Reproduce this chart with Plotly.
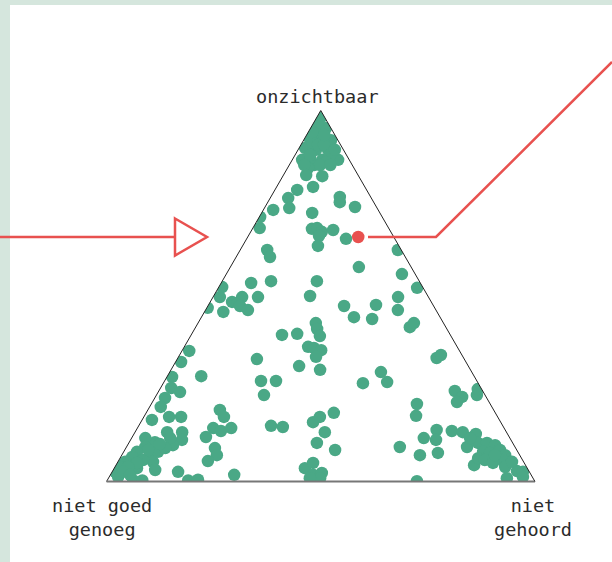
import plotly.graph_objects as go

# Share (%) of each answer: onzichtbaar (top), niet gehoord (right); niet goed genoeg = rest
onzichtbaar = [
    98.2, 95.3, 95.3, 92.6, 92.6, 92.0, 89.9, 89.4, 89.4, 86.7, 86.7, 87.2, 86.7,
    91.4, 90.7, 90.7, 88.0, 85.3, 86.1, 84.5,
    96.9, 93.4, 94.2, 89.4, 88.0, 85.3, 85.3, 85.3,
    82.6, 82.3, 79.4, 78.6, 76.4, 73.7, 73.2, 71.3, 68.3, 72.4, 76.7, 75.3, 74.0,
    68.1, 68.3, 67.3, 66.2, 67.8, 65.4, 63.5, 62.4, 60.5, 62.4, 57.8, 55.9, 54.0,
    54.0, 53.5, 52.2, 52.4, 49.7, 48.4, 48.1, 49.7, 47.3, 46.2, 45.7, 49.7, 46.8,
    50.0, 47.3, 47.6, 44.3, 43.8, 49.7, 46.2, 41.6, 42.7, 42.7, 41.1, 39.2, 39.5,
    39.8, 36.3, 36.0, 35.4, 33.6, 31.1, 30.1, 33.0, 27.1, 27.1, 23.3, 26.5, 29.5,
    26.8, 33.3, 34.1, 35.2, 32.2, 28.4, 28.2, 25.2, 24.1, 22.5, 20.1, 16.6, 17.4,
    17.4, 19.3, 17.4, 14.4, 13.6, 14.4, 12.0, 9.0, 7.1, 5.5, 1.8, 2.6, 0.3, 0.5,
    0.3, 0.3, 15.0, 14.7, 16.0, 17.4, 18.5, 13.3, 10.4, 8.5, 3.6, 5.0, 1.8, 2.3,
    0.9, 0.9, 20.9, 17.7, 24.4, 22.8, 21.4, 23.3, 24.9, 9.3, 7.1, 7.7, 11.7, 13.9,
    11.2, 13.6, 13.3, 12.8, 9.3, 4.4, 0.9, 2.8, 2.6, 1.2, 0.1, 10.4, 10.4, 9.8,
    8.5, 7.1, 8.0, 7.7, 6.3, 5.8, 6.3, 5.8, 5.0, 3.9, 11.7, 5.3, 7.1, 13.3, 13.3,
    11.2, 9.8, 11.7, 10.6, 11.7, 9.3, 8.0, 6.6, 5.3, 3.9, 2.6, 1.2, 6.6, 5.3, 8.0,
    9.0, 3.6, 5.8, 3.1, 5.0, 3.9, 2.6, 10.1, 8.5, 1.8,
]
niet_gehoord = [
    1.0, 1.2, 3.6, 1.0, 3.5, 6.4, 1.4, 4.2, 7.0, 10.7, 2.3, 3.9, 7.0,
    2.3, 4.0, 5.4, 8.2, 5.8, 8.2, 4.8,
    1.0, 4.1, 0.9, 8.6, 3.5, 7.2, 9.6, 3.5,
    5.3, 9.2, 8.5, 5.2, 4.2, 5.8, 2.3, 0.2, 1.6, 11.8, 16.1, 16.8, 21.0,
    13.9, 15.0, 16.6, 16.5, 19.0, 23.2, 17.6, 6.3, 7.9, 36.8, 30.0, 41.0, 11.4,
    22.1, 7.0, 46.4, 0.8, 1.6, 5.1, 6.6, 6.8, 7.5, 9.9, 4.4, 10.5, 0.2,
    22.5, 31.8, 39.1, 35.6, 40.1, 43.2, 44.9, 50.0, 50.4, 27.5, 28.6, 30.2, 21.2,
    24.6, 28.9, 30.4, 32.4, 32.1, 29.4, 34.8, 18.6, 22.5, 26.0, 25.1, 46.6, 49.3,
    52.1, 60.4, 61.0, 1.7, 1.3, 7.9, 1.2, 2.5, 5.1, 2.4, 2.6, 2.3, 5.9,
    8.7, 16.8, 18.7, 17.7, 19.9, 21.9, 17.2, 20.8, 22.2, 20.9, 28.9, 15.4, 18.9, 21.1,
    6.1, 8.2, 30.9, 33.8, 40.2, 41.1, 43.8, 44.3, 43.9, 49.1, 44.5, 45.7, 47.3, 49.1,
    49.4, 47.0, 62.0, 63.4, 69.1, 71.6, 71.1, 74.8, 74.2, 63.8, 69.6, 73.5, 68.2, 70.1,
    71.3, 73.8, 76.5, 79.8, 79.5, 83.6, 93.0, 94.4, 95.9, 96.6, 72.4, 81.5, 83.6, 85.8,
    87.6, 89.5, 83.9, 85.7, 88.0, 89.6, 83.6, 85.4, 87.7, 91.1, 79.0, 92.0, 87.1, 7.5, 11.0,
    12.0, 10.6, 9.0, 6.0, 3.2, 4.4, 3.1, 2.7, 1.7, 1.2, 0.7, 2.1, 6.9, 8.2, 8.0,
    9.2, 5.3, 5.6, 9.8, 4.6, 3.1, 2.6, 7.4, 5.5, 4.6,
]
niet_goed_genoeg = [round(100 - a - c, 1) for a, c in zip(onzichtbaar, niet_gehoord)]

# highlighted respondent
hl_onzichtbaar = [65.9]
hl_niet_gehoord = [25.8]
hl_niet_goed_genoeg = [round(100 - a - c, 1) for a, c in zip(hl_onzichtbaar, hl_niet_gehoord)]

corner_labels = ["onzichtbaar", "niet goed<br>genoeg", "niet<br>gehoord"]

GREEN = "#4aa886"
RED = "#e8514f"
FONT = "DejaVu Sans Mono"
W, H = 612, 562

fig = go.Figure()
fig.add_trace(go.Scatterternary(
    a=onzichtbaar, b=niet_goed_genoeg, c=niet_gehoord, mode="markers",
    marker=dict(size=12.5, color=GREEN, line=dict(width=0)), hoverinfo="skip",
))
fig.add_trace(go.Scatterternary(
    a=hl_onzichtbaar, b=hl_niet_goed_genoeg, c=hl_niet_gehoord, mode="markers",
    marker=dict(size=12.5, color=RED, line=dict(width=0)), hoverinfo="skip",
))

def ax(color, width):
    return dict(title=dict(text=""), showgrid=False, showticklabels=False, ticks="",
                linecolor=color, linewidth=width, min=0)

def px(x):
    return x / W

def py(y):
    return 1 - y / H

def path(points):
    return "M " + " L ".join(f"{px(x):.5f},{py(y):.5f}" for x, y in points)

shapes = [
    dict(type="rect", xref="paper", yref="paper", x0=px(10), x1=1, y0=0, y1=py(5),
         fillcolor="white", line=dict(width=0), layer="below"),
    dict(type="path", xref="paper", yref="paper", path=path([(0, 237), (175, 237)]),
         line=dict(color=RED, width=2.5), layer="above"),
    dict(type="path", xref="paper", yref="paper",
         path=path([(175, 218.5), (207, 237), (175, 255.5)]) + " Z",
         fillcolor="white", line=dict(color=RED, width=2.5), layer="above"),
    dict(type="path", xref="paper", yref="paper",
         path=path([(368, 237), (436, 237), (612, 62)]),
         line=dict(color=RED, width=2.5), layer="above"),
]

label_font = dict(family=FONT, size=18.5, color="#2b2b2b")
annotations = [
    dict(text=corner_labels[0], x=px(317), y=py(97), xref="paper", yref="paper",
         showarrow=False, xanchor="center", yanchor="middle", font=label_font),
    dict(text=corner_labels[1], x=px(102), y=py(517), xref="paper", yref="paper",
         showarrow=False, xanchor="center", yanchor="middle", align="center", font=label_font),
    dict(text=corner_labels[2], x=px(533), y=py(517), xref="paper", yref="paper",
         showarrow=False, xanchor="center", yanchor="middle", align="center", font=label_font),
]

fig.update_layout(
    width=W, height=H,
    margin=dict(l=0, r=0, t=0, b=0),
    paper_bgcolor="#d5e6dd",
    showlegend=False,
    ternary=dict(
        sum=100,
        bgcolor="rgba(0,0,0,0)",
        domain=dict(x=[106.5 / W, 535 / W], y=[1 - 481.5 / H, 1 - 110.5 / H]),
        aaxis=ax("#222", 1),
        baxis=ax("#777", 2),
        caxis=ax("#222", 1),
    ),
    shapes=shapes,
    annotations=annotations,
)

fig.write_html("out.html", config={"displayModeBar": False},
               post_script="document.body.style.margin='0';")
